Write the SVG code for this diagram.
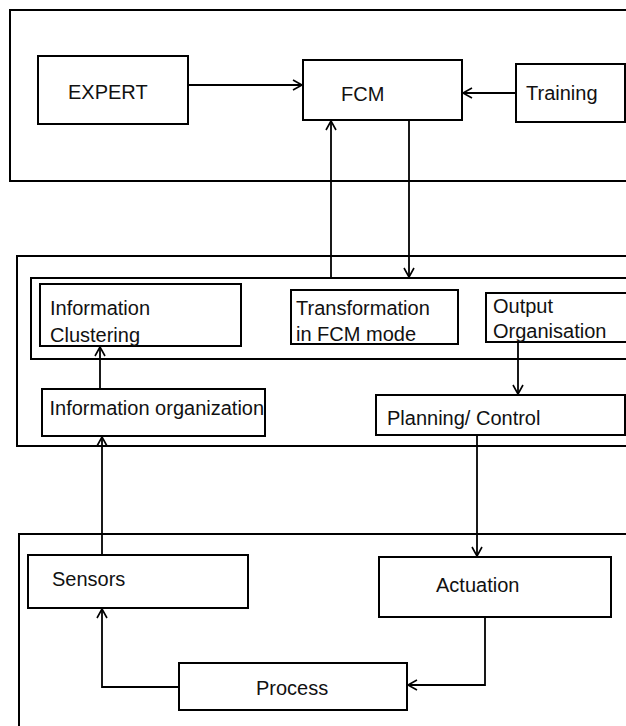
<svg xmlns="http://www.w3.org/2000/svg" width="626" height="726" viewBox="0 0 626 726">
<style>
.box{fill:none;stroke:#000;stroke-width:2}
.node rect{fill:#fff;stroke:#000;stroke-width:2}
text{font-family:"Liberation Sans",Arial,sans-serif;font-size:20px;fill:#111}
.c{fill:none;stroke:#000;stroke-width:1.8;marker-end:url(#v)}
</style>
<defs>
<marker id="v" markerUnits="userSpaceOnUse" markerWidth="14" markerHeight="14" refX="10" refY="6" orient="auto">
<path d="M1,1 L10,6 L1,11" fill="none" stroke="#000" stroke-width="1.6"/>
</marker>
</defs>
<rect fill="#fff" width="626" height="726"/>
<g id="frames">
<rect class="box" x="10" y="10" width="630" height="171"/>
<rect class="box" x="17" y="256" width="630" height="190"/>
<rect class="box" x="31" y="278" width="620" height="81"/>
<rect class="box" x="19" y="534" width="630" height="210"/>
</g>
<g id="expert" class="node"><rect x="38" y="56" width="150" height="68"/><text x="68" y="99">EXPERT</text></g>
<g id="fcm" class="node"><rect x="303" y="60" width="159" height="60"/><text x="341" y="100.5">FCM</text></g>
<g id="training" class="node"><rect x="516" y="64" width="109" height="58"/><text x="526" y="100">Training</text></g>
<g id="info-clustering" class="node"><rect x="40" y="284" width="201" height="62"/><text x="50" y="315">Information</text><text x="50" y="341.5">Clustering</text></g>
<g id="transformation" class="node"><rect x="291" y="290" width="167" height="54"/><text x="296" y="315">Transformation</text><text x="296" y="341">in FCM mode</text></g>
<g id="output-org" class="node"><rect x="486" y="293" width="150" height="49"/><text x="493" y="313">Output</text><text x="493" y="337.5">Organisation</text></g>
<g id="info-org" class="node"><rect x="42" y="389" width="223" height="47"/><text x="49.5" y="415">Information organization</text></g>
<g id="planning" class="node"><rect x="376" y="395" width="249" height="40"/><text x="387" y="425">Planning/ Control</text></g>
<g id="sensors" class="node"><rect x="28" y="555" width="220" height="53"/><text x="52" y="586">Sensors</text></g>
<g id="actuation" class="node"><rect x="379" y="557" width="232" height="60"/><text x="436" y="592">Actuation</text></g>
<g id="process" class="node"><rect x="179" y="663" width="228" height="47"/><text x="256" y="695">Process</text></g>
<g id="connectors">
<path class="c" d="M188,85 H302"/>
<path class="c" d="M516,93 H463"/>
<path class="c" d="M331,278 V121"/>
<path class="c" d="M409,120 V277"/>
<path class="c" d="M100,389 V347"/>
<path class="c" d="M518,342 V394"/>
<path class="c" d="M477,435 V556"/>
<path class="c" d="M102,555 V437"/>
<path class="c" d="M485,617 V685 H408"/>
<path class="c" d="M179,687 H102 V609"/>
</g>
</svg>
